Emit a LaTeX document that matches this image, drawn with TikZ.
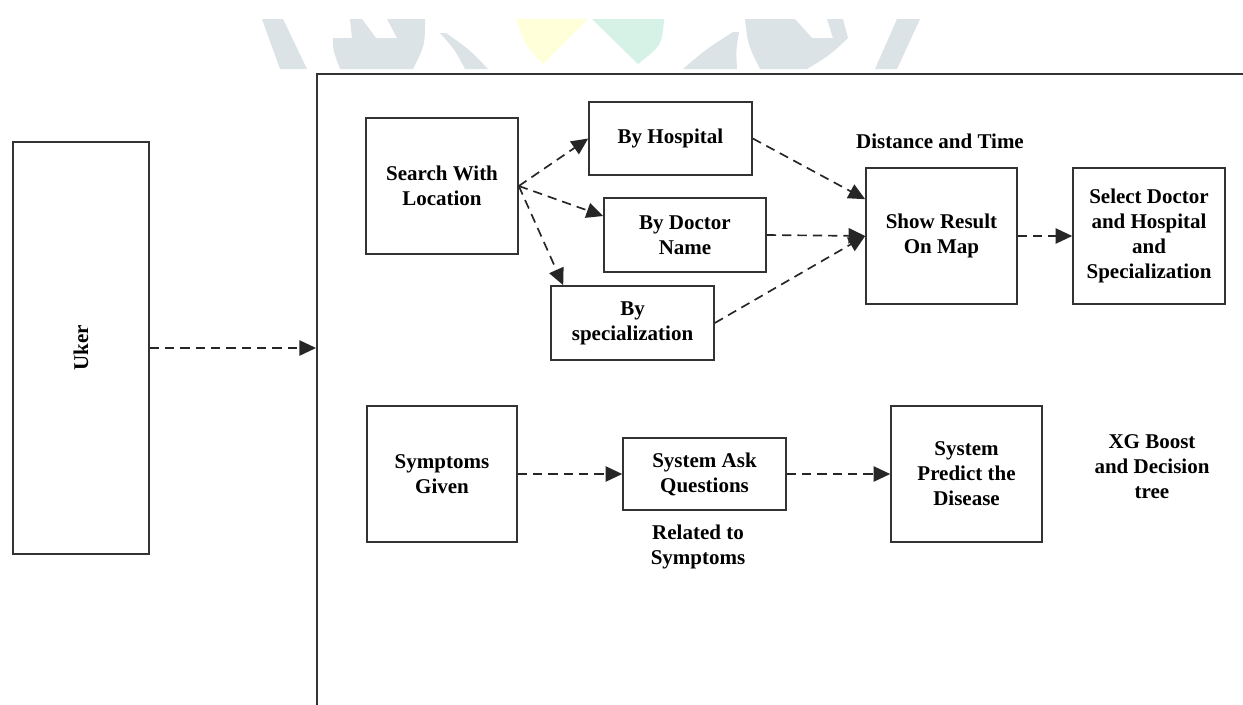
\documentclass[tikz,border=0pt]{standalone}
\usepackage{fontspec}
\setmainfont{Liberation Serif}
\usetikzlibrary{arrows.meta,calc}
\definecolor{wmgray}{HTML}{DCE3E6}
\definecolor{wmyellow}{HTML}{FFFFDA}
\definecolor{wmgreen}{HTML}{D6F1E6}
\definecolor{edge}{HTML}{333333}
\tikzset{
  px/.style={x=0.75pt,y=-0.75pt},
  box/.style={draw=edge,line width=1.2pt,fill=white,align=center,inner sep=0pt,
    font=\fontsize{15.75}{18.75}\selectfont\bfseries},
  lbl/.style={align=center,inner sep=0pt,font=\fontsize{15.75}{18.75}\selectfont\bfseries},
  arr/.style={draw=black!85,line width=1.25pt,dash pattern=on 7pt off 4.5pt,
    -{Triangle[length=12.5pt,width=11.5pt]}},
  wm/.style={draw=none}
}
\begin{document}
\begin{tikzpicture}[px]
\useasboundingbox (0,0) rectangle (1243,704);
\clip (0,0) rectangle (1243,704);
\fill[white] (0,0) rectangle (1243,704);
% watermark
\fill[wmgray] (262,19) -- (283,19) -- (307,69) -- (280,69) -- cycle;
\fill[wmgray] (350,19) -- (362,19) -- (376,38) -- (397,38) -- (387,19) -- (425,19)
  .. controls (425,45) .. (413,69) -- (340,69) .. controls (333,50) .. (333,38) -- (352,38) -- cycle;
\fill[wmgray] (440,33) -- (446,33) .. controls (470,50) .. (488,69) -- (465,69) .. controls (455,50) .. cycle;
\fill[wmyellow] (516,19) -- (588,19) -- (543,64) .. controls (525,45) .. cycle;
\fill[wmgreen] (592,19) -- (664,19) .. controls (662,45) .. (638,64) -- cycle;
\fill[wmgray] (733,32) -- (739,32) .. controls (736,50) .. (737,69) -- (683,69) .. controls (705,50) .. cycle;
\fill[wmgray] (745,19) -- (795,19) -- (812,38) -- (833,38) -- (827,19) -- (843,19) -- (848,38)
  .. controls (830,55) .. (807,69) -- (760,69) .. controls (748,45) .. cycle;
\fill[wmgray] (897,19) -- (920,19) -- (897,69) -- (875,69) -- cycle;
% frame
\node[draw=edge,line width=1.6pt,anchor=north west,minimum width=1000,minimum height=700,inner sep=0pt] (frame) at (316,73) {};
% nodes
\node[box,minimum width=102pt,minimum height=309pt] (user) at (81,348) {\rotatebox{90}{Uker}};
\node[box,minimum width=114pt,minimum height=102pt] (search) at (442,186) {Search With\\Location};
\node[box,minimum width=122.25pt,minimum height=54.75pt] (hosp) at (670.5,138.5) {By Hospital};
\node[box,minimum width=121.5pt,minimum height=55.5pt] (doc) at (685,235) {By Doctor\\Name};
\node[box,minimum width=122.25pt,minimum height=55.5pt] (spec) at (632.5,323) {By\\specialization};
\node[box,minimum width=113.25pt,minimum height=102pt] (show) at (941.5,236) {Show Result\\On Map};
\node[box,minimum width=114pt,minimum height=102pt] (sel) at (1149,236) {Select Doctor\\and Hospital\\and\\Specialization};
\node[box,minimum width=112.5pt,minimum height=102pt] (symp) at (442,474) {Symptoms\\Given};
\node[box,minimum width=122.25pt,minimum height=54pt] (ask) at (704.5,474) {System Ask\\Questions};
\node[box,minimum width=113.25pt,minimum height=102pt] (pred) at (966.5,474) {System\\Predict the\\Disease};
\node[lbl] (dist) at (940,141) {Distance and Time};
\node[lbl] (rel) at (698,547) {Related to\\Symptoms};
\node[lbl] (xg) at (1152,467) {XG Boost\\and Decision\\tree};
% connectors
\draw[arr] (user.east) -- (user.east -| frame.west);
\draw[arr] (search.east) -- (hosp.west);
\draw[arr] (search.east) -- ($(doc.west)+(0,-19)$);
\draw[arr] (search.east) -- ($(spec.north west)+(13,0)$);
\draw[arr] (hosp.east) -- ($(show.north west)+(0,32)$);
\draw[arr] (doc.east) -- (show.west);
\draw[arr] (spec.east) -- (show.west);
\draw[arr] (show.east) -- (sel.west);
\draw[arr] (symp.east) -- (ask.west);
\draw[arr] (ask.east) -- (pred.west);
\end{tikzpicture}
\end{document}
